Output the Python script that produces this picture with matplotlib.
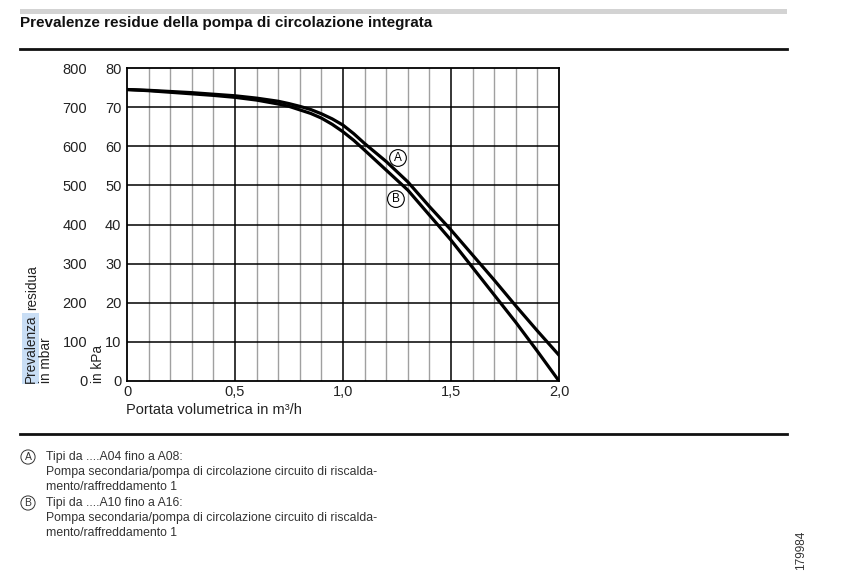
import matplotlib
matplotlib.use("Agg")
import matplotlib.pyplot as plt
from matplotlib.lines import Line2D
from matplotlib.patches import Rectangle

plt.rcParams['font.family'] = ['Liberation Sans', 'DejaVu Sans']

# ---- data ----
flow_A = [0.0, 0.1, 0.2, 0.3, 0.4, 0.5, 0.6, 0.7, 0.75, 0.8, 0.85, 0.9, 0.95, 1.0, 1.05, 1.1, 1.2, 1.3, 1.4, 1.5, 1.6, 1.7, 1.8, 1.9, 2.0]
head_A = [74.5, 74.3, 74.0, 73.7, 73.3, 72.9, 72.3, 71.5, 70.9, 70.2, 69.4, 68.3, 67.0, 65.4, 63.2, 60.7, 56.1, 50.9, 44.6, 38.6, 32.2, 25.8, 19.2, 12.8, 6.6]
flow_B = [0.0, 0.1, 0.2, 0.3, 0.4, 0.5, 0.6, 0.7, 0.75, 0.8, 0.85, 0.9, 0.95, 1.0, 1.05, 1.1, 1.2, 1.3, 1.4, 1.5, 1.6, 1.7, 1.8, 1.9, 2.0]
head_B = [74.5, 74.2, 73.8, 73.4, 73.0, 72.5, 71.8, 70.8, 70.2, 69.3, 68.4, 67.2, 65.6, 63.7, 61.5, 59.0, 53.9, 48.8, 42.4, 36.0, 29.0, 22.0, 15.0, 7.6, 0.0]

x_ticks = [0, 0.5, 1.0, 1.5, 2.0]
x_labels = ['0', '0,5', '1,0', '1,5', '2,0']
kpa_ticks = [0, 10, 20, 30, 40, 50, 60, 70, 80]
mbar_ticks = [0, 100, 200, 300, 400, 500, 600, 700, 800]

title = "Prevalenze residue della pompa di circolazione integrata"
xlabel = "Portata volumetrica in m³/h"
legend_A = ["Tipi da ....A04 fino a A08:",
            "Pompa secondaria/pompa di circolazione circuito di riscalda-",
            "mento/raffreddamento 1"]
legend_B = ["Tipi da ....A10 fino a A16:",
            "Pompa secondaria/pompa di circolazione circuito di riscalda-",
            "mento/raffreddamento 1"]
code = "179984"

W, H = 851, 572
fig = plt.figure(figsize=(W / 100, H / 100), dpi=100)

def fx(px):
    return px / W

def fy(py):
    return 1 - py / H

TXT = '#222222'

# axes
ax = fig.add_axes([fx(127), fy(381), fx(559) - fx(127), fy(68) - fy(381)])
ax.set_xlim(0, 2.0)
ax.set_ylim(0, 80)

# grid
for i in range(1, 20):
    xv = i / 10
    if i % 5 == 0:
        ax.axvline(xv, color='black', lw=1.1, zorder=1)
    else:
        ax.axvline(xv, color='#a0a0a0', lw=1.0, zorder=1)
for yv in kpa_ticks[1:-1]:
    ax.axhline(yv, color='black', lw=1.1, zorder=1)
for s in ax.spines.values():
    s.set_linewidth(1.3)
    s.set_color('black')

ax.plot(flow_A, head_A, color='black', lw=2.3, zorder=3, solid_joinstyle='round')
ax.plot(flow_B, head_B, color='black', lw=2.3, zorder=3, solid_joinstyle='round')

ax.set_xticks(x_ticks)
ax.set_xticklabels(x_labels)
ax.set_yticks(kpa_ticks)
ax.set_yticklabels([str(v) for v in kpa_ticks])
ax.tick_params(axis='both', length=0, labelsize=10.5, colors=TXT)
ax.tick_params(axis='y', pad=4)
ax.tick_params(axis='x', pad=3)

# mbar secondary axis
sec = ax.secondary_yaxis(-0.081, functions=(lambda v: v * 10, lambda v: v / 10))
sec.set_yticks(mbar_ticks)
sec.set_yticklabels([str(v) for v in mbar_ticks])
sec.spines['left'].set_visible(False)
sec.tick_params(length=0, labelsize=10.5, colors=TXT)

# curve markers
circ = dict(boxstyle='circle,pad=0.2', fc='white', ec='black', lw=0.8)
ax.text(1.2546, 57.0, 'A', ha='center', va='center', fontsize=8.5, bbox=circ, zorder=5)
ax.text(1.245, 46.5, 'B', ha='center', va='center', fontsize=8.5, bbox=circ, zorder=5)

# x label
fig.text(fx(126), fy(410), xlabel, ha='left', va='center', fontsize=10.5, color=TXT)

# y labels
t1 = fig.text(fx(30.5), fy(383), 'Prevalenza', rotation=90, ha='center', va='bottom', fontsize=9.8,
              color=TXT, bbox=dict(boxstyle='square,pad=0.08', fc='#c9def5', ec='none'))
renderer = fig.canvas.get_renderer()
ext = t1.get_window_extent(renderer=renderer)
top_px = H - ext.y1
fig.text(fx(32), fy(top_px - 4), 'residua', rotation=90, ha='center', va='bottom', fontsize=9.8, color=TXT)
fig.text(fx(46), fy(383), 'in mbar', rotation=90, ha='center', va='bottom', fontsize=9.8, color=TXT)
fig.text(fx(98.5), fy(383), 'in kPa', rotation=90, ha='center', va='bottom', fontsize=9.8, color=TXT)

# title and rules
fig.add_artist(Rectangle((fx(20), fy(13.5)), fx(787) - fx(20), fy(9) - fy(13.5),
                         transform=fig.transFigure, fc='#d3d3d3', ec='none'))
fig.text(fx(20), fy(23), title, ha='left', va='center', fontsize=11, fontweight='bold', color='#111111')
fig.add_artist(Line2D([fx(20), fx(787)], [fy(48.5), fy(48.5)], transform=fig.transFigure,
                      color='#111111', lw=2.0))
fig.add_artist(Line2D([fx(20), fx(787)], [fy(433.5), fy(433.5)], transform=fig.transFigure,
                      color='#111111', lw=2.0))

# legend below
lcirc = dict(boxstyle='circle,pad=0.2', fc='white', ec='#333333', lw=0.7)
y0 = 457
for k, (letter, lines) in enumerate([('A', legend_A), ('B', legend_B)]):
    base = y0 + k * 46
    fig.text(fx(28), fy(base), letter, ha='center', va='center', fontsize=7.5, color='#333333', bbox=lcirc)
    for j, line in enumerate(lines):
        fig.text(fx(46), fy(base + j * 15), line, ha='left', va='center', fontsize=8.85, color='#333333')

fig.text(fx(801), fy(550), code, rotation=90, ha='center', va='center', fontsize=8.5, color='#333333')

fig.savefig('out.png', dpi=100, facecolor='white')
